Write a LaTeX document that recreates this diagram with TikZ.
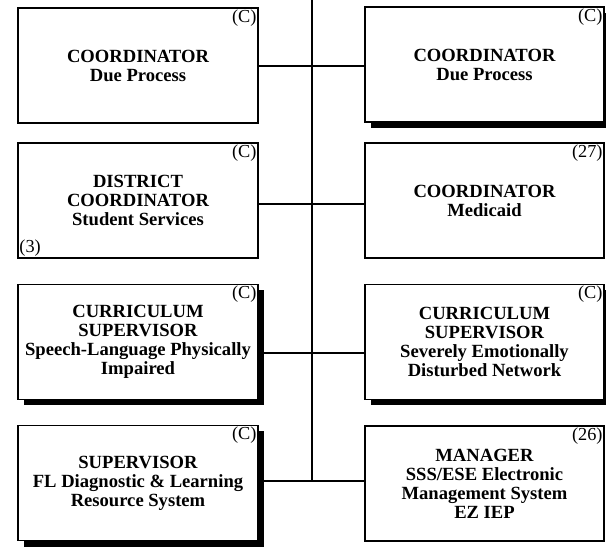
\documentclass[tikz,border=0pt]{standalone}
\usepackage{fontspec}
\setmainfont{Liberation Serif}
\usetikzlibrary{shadows}
\begin{document}
\begin{tikzpicture}[x=1pt,y=-1pt,
  box/.style={draw=black, line width=1.4pt, fill=white, minimum width=240pt, minimum height=115pt,
    inner sep=2pt, align=center, font=\fontsize{18.6}{19}\selectfont\bfseries},
  rbox/.style={box, minimum width=239pt},
  shade/.style={drop shadow={shadow xshift=6pt, shadow yshift=-6pt, fill=black, opacity=1}},
  tag/.style={inner sep=2pt, font=\fontsize{18.3}{18}\selectfont},
  link/.style={line width=1.4pt}]
\useasboundingbox (0,0) rectangle (606,548);
\clip (0,0) rectangle (606,548);
% junctions on the spine
\coordinate (stop) at (312,0);
\coordinate (j1) at (312,66);
\coordinate (j2) at (312,204);
\coordinate (j3) at (312,353);
\coordinate (j4) at (312,481);
% boxes
\node[box] (b1) at (138,65.5) {COORDINATOR\\Due Process};
\node[rbox,shade] (b2) at (484.5,64.5) {COORDINATOR\\Due Process};
\node[box] (b3) at (138,200.5) {DISTRICT\\COORDINATOR\\Student Services};
\node[rbox] (b4) at (484.5,200.5) {COORDINATOR\\Medicaid};
\node[box,shade] (b5) at (138,342) {CURRICULUM\\SUPERVISOR\\Speech-Language Physically\\Impaired};
\node[rbox,shade] (b6) at (484.5,342) {CURRICULUM\\SUPERVISOR\\Severely Emotionally\\Disturbed Network};
\node[box,shade] (b7) at (138,483) {SUPERVISOR\\FL Diagnostic \& Learning\\Resource System};
\node[rbox] (b8) at (484.5,483.5) {MANAGER\\SSS/ESE Electronic\\Management System\\EZ IEP};
% tags
\node[tag, anchor=north east] (t1) at (b1.north east) {(C)};
\node[tag, anchor=north east] (t2) at (b2.north east) {(C)};
\node[tag, anchor=north east] (t3) at (b3.north east) {(C)};
\node[tag, anchor=south west] (t3b) at (b3.south west) {(3)};
\node[tag, anchor=north east] (t4) at (b4.north east) {(27)};
\node[tag, anchor=north east] (t5) at (b5.north east) {(C)};
\node[tag, anchor=north east] (t6) at (b6.north east) {(C)};
\node[tag, anchor=north east] (t7) at (b7.north east) {(C)};
\node[tag, anchor=north east] (t8) at (b8.north east) {(26)};
% connectors
\draw[link] (stop) -- (j4);
\draw[link] (b1.east |- j1) -- (j1) -- (b2.west |- j1);
\draw[link] (b3.east |- j2) -- (j2) -- (b4.west |- j2);
\draw[link] (b5.east |- j3) -- (j3) -- (b6.west |- j3);
\draw[link] (b7.east |- j4) -- (j4) -- (b8.west |- j4);
\end{tikzpicture}
\end{document}
